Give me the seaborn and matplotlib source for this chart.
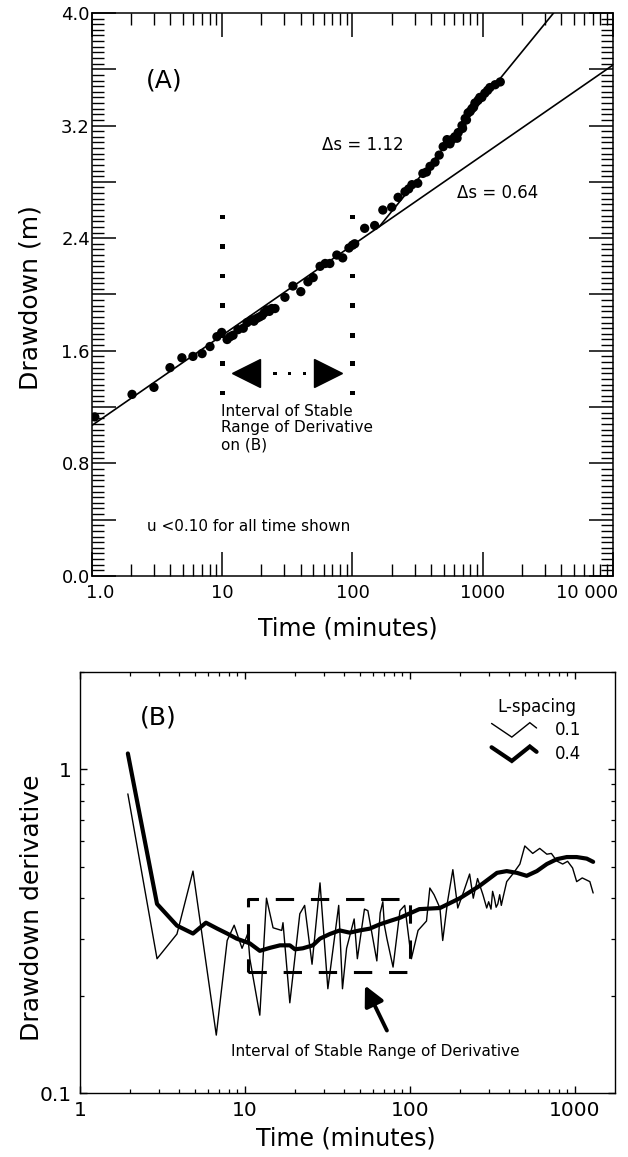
import numpy as np
import pandas as pd
import matplotlib
matplotlib.use("Agg")
import matplotlib.pyplot as plt
import seaborn as sns
from matplotlib.lines import Line2D
from matplotlib.legend_handler import HandlerBase
from matplotlib.ticker import MultipleLocator, LogLocator, NullFormatter
from matplotlib.transforms import ScaledTranslation

# ---------------- data: panel (A) ----------------
time_a = [1.05, 2.03, 2.99, 3.97, 4.9, 5.96, 7.0, 8.05, 9.1, 9.9, 10.9, 11.5, 12.1, 13.2,
          14.5, 15.5, 16.9, 17.5, 18.4, 19.3, 20.2, 21.0, 22.0, 23.0, 24.0, 25.4, 30.3,
          34.9, 40.1, 45.5, 49.9, 56.4, 61.7, 67.0, 75.8, 84.1, 93.9, 100, 104, 124, 148,
          171, 200, 224, 253, 270, 286, 317, 347, 370, 394, 430, 463, 497, 532, 560, 580,
          610, 635, 648, 693, 700, 733, 750, 772, 800, 826, 850, 871, 921, 950, 984,
          1037, 1090, 1135, 1245, 1363]
drawdown_a = [1.13, 1.29, 1.34, 1.48, 1.55, 1.56, 1.58, 1.63, 1.70, 1.73, 1.68, 1.70, 1.71,
              1.75, 1.76, 1.80, 1.82, 1.81, 1.83, 1.84, 1.85, 1.87, 1.89, 1.88, 1.90, 1.90,
              1.98, 2.06, 2.02, 2.09, 2.12, 2.20, 2.22, 2.22, 2.28, 2.26, 2.33, 2.35, 2.36,
              2.47, 2.49, 2.60, 2.62, 2.69, 2.73, 2.75, 2.78, 2.79, 2.86, 2.87, 2.91, 2.94,
              2.99, 3.05, 3.10, 3.07, 3.10, 3.12, 3.11, 3.15, 3.20, 3.18, 3.25, 3.24, 3.29,
              3.30, 3.32, 3.33, 3.36, 3.38, 3.40, 3.40, 3.43, 3.45, 3.47, 3.49, 3.51]

fit1_t = [1, 10000]          # delta s = 0.64 per log cycle
fit1_s = [1.07, 3.63]
fit2_t = [160, 3500]         # delta s = 1.12 per log cycle
fit2_s = [2.48, 4.00]

interval_t = [10, 100]
interval_dots_s = [2.55, 2.34, 2.13, 1.92, 1.71, 1.51, 1.30]
arrow_s = 1.44
arrow_left_t = 15.2
arrow_right_t = 65.0
arrow_dots_t = [25.4, 33.0, 43.1]

xticks_a = [1, 10, 100, 1000, 10000]
xticklabels_a = ["1.0", "10", "100", "1000", "10 000"]
yticks_a = [0.0, 0.4, 0.8, 1.2, 1.6, 2.0, 2.4, 2.8, 3.2, 3.6, 4.0]
yticklabels_a = ["0.0", "", "0.8", "", "1.6", "", "2.4", "", "3.2", "", "4.0"]

# ---------------- data: panel (B) ----------------
thin_t = [1.95, 2.93, 3.87, 4.84, 6.7, 7.8, 8.6, 9.6, 10.4, 10.7, 12.3, 13.5, 14.8, 16.7,
          17.0, 18.7, 21.5, 23.0, 25.5, 28.5, 31.8, 37, 39, 41.3, 45.9, 48, 53, 55.6, 63,
          66, 68.5, 70, 72.5, 79, 87, 93, 102, 112, 126, 132, 140, 152, 158, 169, 182, 195,
          212, 230, 242, 257, 277, 292, 300, 310, 317, 325, 333, 341, 350, 358, 366, 386,
          420, 464, 497, 555, 612, 676, 720, 777, 843, 903, 968, 1025, 1108, 1232, 1290]
thin_d = [0.84, 0.26, 0.31, 0.485, 0.151, 0.296, 0.33, 0.28, 0.311, 0.26, 0.174, 0.40,
          0.324, 0.318, 0.336, 0.19, 0.358, 0.38, 0.25, 0.446, 0.21, 0.38, 0.21, 0.28,
          0.345, 0.26, 0.37, 0.366, 0.256, 0.36, 0.39, 0.33, 0.30, 0.245, 0.366, 0.38,
          0.26, 0.318, 0.34, 0.43, 0.41, 0.373, 0.296, 0.39, 0.49, 0.373, 0.42, 0.475,
          0.40, 0.46, 0.41, 0.373, 0.39, 0.37, 0.42, 0.40, 0.375, 0.384, 0.41, 0.38, 0.40,
          0.45, 0.475, 0.51, 0.58, 0.55, 0.57, 0.547, 0.55, 0.521, 0.51, 0.52, 0.496,
          0.45, 0.462, 0.45, 0.415]

thick_t = [1.95, 2.93, 3.87, 4.84, 5.8, 6.8, 7.8, 8.9, 10.7, 12.3, 14.2, 16.3, 18.7, 20.1,
           22.4, 25.8, 28.5, 32.7, 37.5, 43.1, 49.6, 57, 65.6, 75.4, 87, 114, 152, 201,
           265, 337, 386, 445, 510, 588, 676, 777, 893, 1025, 1180, 1290]
thick_d = [1.12, 0.384, 0.329, 0.311, 0.336, 0.322, 0.311, 0.30, 0.29, 0.275, 0.281, 0.286,
           0.286, 0.278, 0.28, 0.286, 0.30, 0.31, 0.318, 0.313, 0.318, 0.322, 0.332, 0.34,
           0.348, 0.37, 0.373, 0.40, 0.437, 0.479, 0.485, 0.479, 0.469, 0.485, 0.51, 0.528,
           0.536, 0.536, 0.53, 0.518]

box_t = [10.4, 100]
box_d = [0.237, 0.398]
legend_labels = ["0.1", "0.4"]

xticks_b = [1, 10, 100, 1000]
xticklabels_b = ["1", "10", "100", "1000"]
yticks_b = [0.1, 1]
yticklabels_b = ["0.1", "1"]

# ---------------- style ----------------
sns.set_theme(style="ticks")
plt.rcParams["font.family"] = ["DejaVu Sans"]
plt.rcParams["axes.linewidth"] = 1.1
for key in ["text.color", "axes.labelcolor", "xtick.color", "ytick.color",
            "axes.edgecolor", "xtick.labelcolor", "ytick.labelcolor"]:
    plt.rcParams[key] = "black"

fig = plt.figure(figsize=(6.28, 11.57), dpi=100)
ax1 = fig.add_axes([0.1465, 0.5022, 0.8296, 0.4866])
ax2 = fig.add_axes([0.1274, 0.0553, 0.8519, 0.3639])

# ================= panel A =================
ax1.set_xscale("log")
df_a = pd.DataFrame({"t": time_a, "s": drawdown_a})
sns.lineplot(x=fit1_t, y=fit1_s, ax=ax1, color="black", lw=1.2, sort=False, estimator=None)
sns.lineplot(x=fit2_t, y=fit2_s, ax=ax1, color="black", lw=1.2, sort=False, estimator=None)
sns.scatterplot(data=df_a, x="t", y="s", ax=ax1, color="black", s=45, edgecolor="none",
                zorder=3)
for t in interval_t:
    sns.scatterplot(x=[t] * len(interval_dots_s), y=interval_dots_s, ax=ax1, marker="s",
                    color="black", s=11, edgecolor="none", zorder=3)
ax1.plot([arrow_left_t], [arrow_s], marker="<", ms=20, color="black", ls="none")
ax1.plot([arrow_right_t], [arrow_s], marker=">", ms=20, color="black", ls="none")
sns.scatterplot(x=arrow_dots_t, y=[arrow_s] * len(arrow_dots_t), ax=ax1, marker="s",
                color="black", s=5, edgecolor="none")

ax1.set_xlim(1, 10000)
ax1.set_ylim(0, 4)
ax1.set_xticks(xticks_a)
ax1.set_xticklabels(xticklabels_a)
ax1.xaxis.set_minor_locator(LogLocator(base=10, subs=np.arange(2, 10), numticks=20))
ax1.xaxis.set_minor_formatter(NullFormatter())
ax1.set_yticks(yticks_a)
ax1.set_yticklabels(yticklabels_a)
ax1.yaxis.set_minor_locator(MultipleLocator(0.04))
ax1.tick_params(which="major", direction="in", length=17, width=1.1, top=True, right=True,
                labelsize=13, colors="black")
ax1.tick_params(axis="x", which="major", pad=6)
ax1.tick_params(axis="y", which="major", pad=1.5)
ax1.tick_params(which="minor", direction="in", length=8.5, width=1.0, top=True, right=True,
                colors="black")
labs = ax1.get_xticklabels()
labs[0].set_transform(labs[0].get_transform() + ScaledTranslation(0.08, 0, fig.dpi_scale_trans))
labs[-1].set_transform(labs[-1].get_transform() + ScaledTranslation(-0.26, 0, fig.dpi_scale_trans))

ax1.set_xlabel("Time (minutes)", fontsize=17)
ax1.set_ylabel("Drawdown (m)", fontsize=18)
ax1.xaxis.set_label_coords(0.491, -0.094)
ax1.xaxis.label.set_va("center")
ax1.yaxis.set_label_coords(-0.119, 0.494)
ax1.yaxis.label.set_va("center")

ax1.text(3.57, 3.52, "(A)", fontsize=18, ha="center", va="center")
ax1.text(9.78, 1.225, "Interval of Stable\nRange of Derivative\non (B)", fontsize=11,
         ha="left", va="top", linespacing=1.15)
ax1.text(2.64, 0.35, "u <0.10 for all time shown", fontsize=11, ha="left", va="center")
ax1.text(58.3, 3.06, "\u0394s = 1.12", fontsize=12, ha="left", va="center")
ax1.text(635, 2.72, "\u0394s = 0.64", fontsize=12, ha="left", va="center")

# ================= panel B =================
ax2.set_xscale("log")
ax2.set_yscale("log")
sns.lineplot(x=thin_t, y=thin_d, ax=ax2, color="black", lw=1.0, sort=False, estimator=None)
sns.lineplot(x=thick_t, y=thick_d, ax=ax2, color="black", lw=3.0, sort=False, estimator=None)
thin_line, thick_line = ax2.lines[0], ax2.lines[1]

rect_t = [box_t[0], box_t[1], box_t[1], box_t[0], box_t[0]]
rect_d = [box_d[0], box_d[0], box_d[1], box_d[1], box_d[0]]
ax2.plot(rect_t, rect_d, color="black", lw=2.2, dashes=(6, 5.5))

ax2.annotate("", xy=(53.4, 0.215), xytext=(72.5, 0.156),
             arrowprops=dict(arrowstyle="-|>", lw=2.8, mutation_scale=30, color="black",
                             shrinkA=0, shrinkB=0))
ax2.text(61.3, 0.134, "Interval of Stable Range of Derivative", fontsize=11,
         ha="center", va="center")
ax2.text(2.97, 1.445, "(B)", fontsize=18, ha="center", va="center")

ax2.set_xlim(1, 1750)
ax2.set_ylim(0.1, 2.0)
ax2.set_xticks(xticks_b)
ax2.set_xticklabels(xticklabels_b)
ax2.set_yticks(yticks_b)
ax2.set_yticklabels(yticklabels_b)
ax2.xaxis.set_minor_locator(LogLocator(base=10, subs=np.arange(2, 10), numticks=20))
ax2.yaxis.set_minor_locator(LogLocator(base=10, subs=np.arange(2, 10), numticks=20))
ax2.xaxis.set_minor_formatter(NullFormatter())
ax2.yaxis.set_minor_formatter(NullFormatter())
ax2.tick_params(which="major", direction="in", length=5, width=1.0, top=True, right=True,
                labelsize=14.5, colors="black", pad=6)
ax2.tick_params(which="minor", direction="in", length=3, width=0.9, top=True, right=True,
                colors="black")
for sp in ax2.spines.values():
    sp.set_linewidth(1.0)

ax2.set_xlabel("Time (minutes)", fontsize=17)
ax2.set_ylabel("Drawdown derivative", fontsize=18)
ax2.xaxis.set_label_coords(0.497, -0.107)
ax2.xaxis.label.set_va("center")
ax2.yaxis.set_label_coords(-0.09, 0.44)
ax2.yaxis.label.set_va("center")


class ZigZagHandler(HandlerBase):
    def create_artists(self, legend, orig_handle, xdescent, ydescent, width, height,
                       fontsize, trans):
        fx = np.array([0.0, 0.45, 0.85, 1.0])
        fy = np.array([0.9, 0.0, 0.95, 0.6])
        h = height * 1.3
        xs = fx * width - xdescent
        ys = fy * h - ydescent - (h - height) / 2
        line = Line2D(xs, ys, lw=orig_handle.get_linewidth(), color="black",
                      solid_joinstyle="miter", transform=trans)
        return [line]


leg = ax2.legend(handles=[thin_line, thick_line], labels=legend_labels, title="L-spacing",
                 handler_map={Line2D: ZigZagHandler()}, frameon=False, loc="upper right",
                 bbox_to_anchor=(0.965, 0.975), fontsize=12, title_fontsize=12,
                 handlelength=2.7, handletextpad=1.1, labelspacing=0.35)

fig.savefig("out.png", dpi=100)
